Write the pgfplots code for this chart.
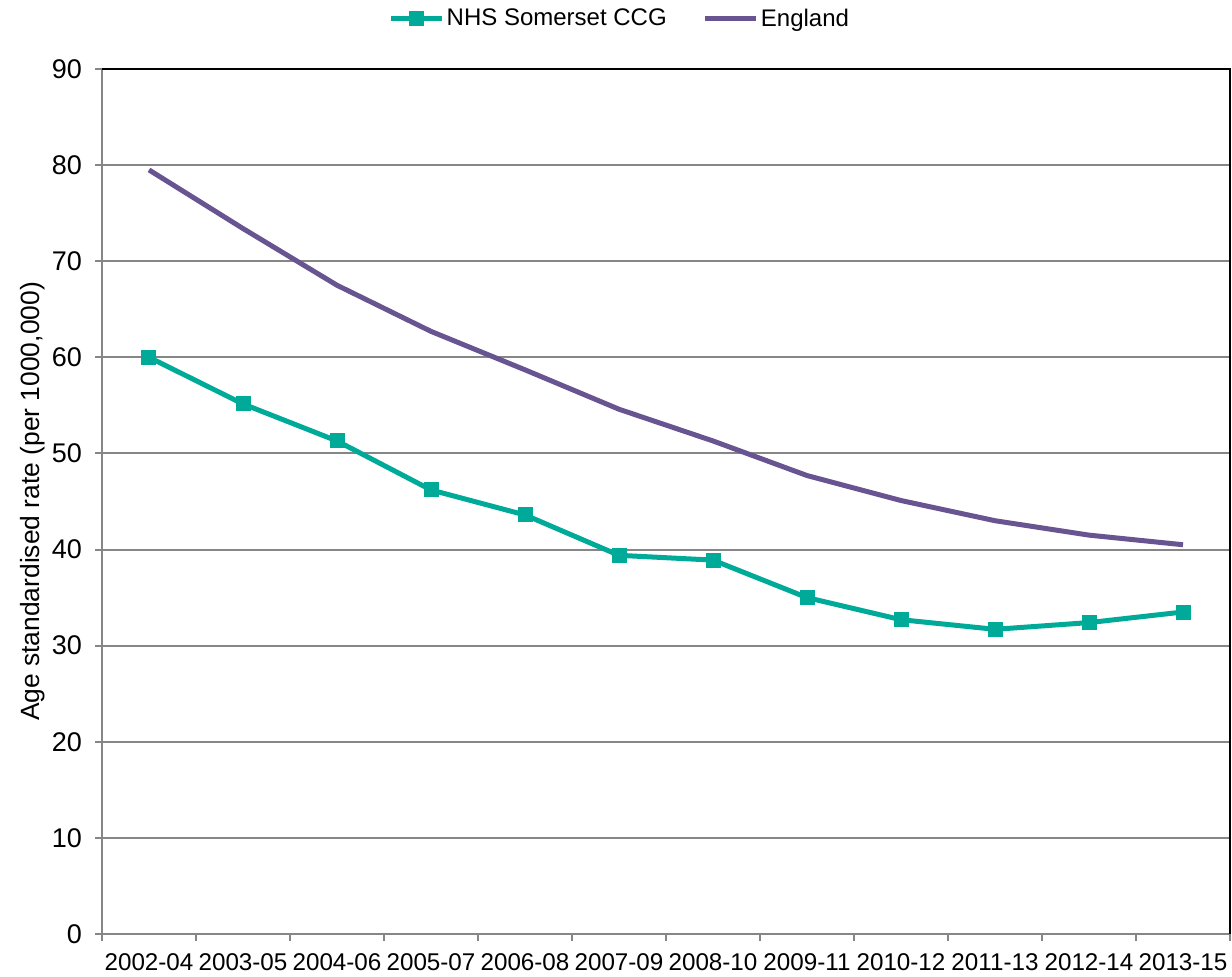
\documentclass[border=0pt]{standalone}
\usepackage{pgfplots}
\pgfplotsset{compat=1.18}
\usepackage{fontspec}
\setmainfont{Liberation Sans}
\definecolor{teal1}{RGB}{0,170,153}
\definecolor{purp}{RGB}{104,84,144}
\definecolor{gridg}{RGB}{134,134,134}
\begin{document}
\begin{tikzpicture}[font=\fontsize{12}{14.4}\selectfont]
\useasboundingbox (-51pt,-21.5pt) rectangle (565pt,467pt);
\begin{axis}[
  scale only axis,
  width=564pt, height=432.5pt,
  xmin=-0.5, xmax=11.5, ymin=0, ymax=90,
  xtick={0,...,11},
  xticklabels={2002-04,2003-05,2004-06,2005-07,2006-08,2007-09,2008-10,2009-11,2010-12,2011-13,2012-14,2013-15},
  minor xtick={-0.5,0.5,...,11.5},
  ytick={0,10,...,90},
  tick align=outside,
  x tick style={draw=none},
  minor x tick style={draw=gridg, line width=1pt},
  minor tick length=3.5pt,
  y tick style={draw=gridg, line width=1pt},
  major tick length=3.5pt,
  xtick pos=bottom, ytick pos=left,
  ymajorgrids,
  major grid style={draw=gridg, line width=1pt},
  axis line style={draw=none},
  /pgf/number format/assume math mode=true,
  xticklabel style={yshift=-3pt, font=\fontsize{12.1}{14.4}\selectfont},
  yticklabel style={xshift=-3pt, font=\fontsize{13.5}{16}\selectfont},
  ylabel={Age standardised rate (per 1000,000)},
  ylabel style={at={(axis description cs:-0.0612,0.5)}, anchor=center, font=\fontsize{13.2}{16}\selectfont},
  legend style={at={(axis description cs:0.459,1.058)}, anchor=center, draw=none, fill=none,
    legend columns=2, /tikz/every even column/.append style={column sep=17pt},
    nodes={inner sep=1pt}},
  legend image code/.code={\draw[mark repeat=2,mark phase=2] plot coordinates {(0cm,0cm)(0.45cm,0cm)(0.9cm,0cm)};},
  clip=false,
]
\addplot[teal1, line width=2.5pt, mark=square*, mark size=3.5pt, mark options={solid, line width=0pt, fill=teal1}] coordinates {
(0,60.0)(1,55.15)(2,51.3)(3,46.2)(4,43.6)(5,39.4)(6,38.9)(7,35.0)(8,32.7)(9,31.7)(10,32.4)(11,33.5)};
\addlegendentry{NHS Somerset CCG}
\addplot[purp, line width=2.5pt, mark=none] coordinates {
(0,79.5)(1,73.4)(2,67.5)(3,62.7)(4,58.7)(5,54.6)(6,51.3)(7,47.7)(8,45.1)(9,43.0)(10,41.5)(11,40.5)};
\addlegendentry{England}
\draw[gridg, line width=1pt] (rel axis cs:0,1) -- (rel axis cs:0,0) -- (rel axis cs:1,0);
\draw[black, line width=1pt] (rel axis cs:0,1) -- (rel axis cs:1,1) -- (rel axis cs:1,0);
\end{axis}
\end{tikzpicture}
\end{document}
